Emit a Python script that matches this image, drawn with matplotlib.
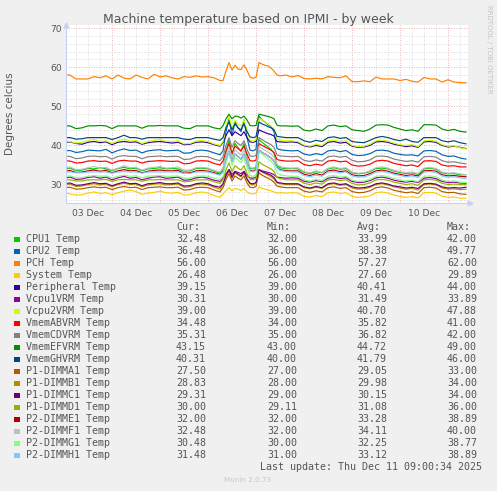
import matplotlib
matplotlib.use("Agg")
import matplotlib.pyplot as plt
from matplotlib.patches import Rectangle

W, H = 497, 491

# time axis: days since 03 Dec 00:00 (finer sampling around the 06 Dec load)
t_days = [0.0, 0.125, 0.25, 0.375, 0.5, 0.625, 0.75, 0.875, 1.0, 1.125, 1.25, 1.375, 1.5, 1.625,
          1.75, 1.875, 2.0, 2.125, 2.25, 2.375, 2.5, 2.625, 2.75, 2.875, 3.0, 3.125, 3.25,
          3.3125, 3.375, 3.4375, 3.5, 3.5625, 3.625, 3.6875, 3.75, 3.8125, 3.875, 3.9375, 4.0,
          4.0625, 4.125, 4.1875, 4.25, 4.3125, 4.375, 4.4375,
          4.5, 4.625, 4.75, 4.875, 5.0, 5.125, 5.25, 5.375, 5.5, 5.625, 5.75, 5.875, 6.0, 6.125,
          6.25, 6.375, 6.5, 6.625, 6.75, 6.875, 7.0, 7.125, 7.25, 7.375, 7.5, 7.625, 7.75, 7.875,
          8.0, 8.125, 8.25, 8.375]

day_labels = ["03 Dec", "04 Dec", "05 Dec", "06 Dec", "07 Dec", "08 Dec", "09 Dec", "10 Dec"]
day_label_pos = [0.5, 1.5, 2.5, 3.5, 4.5, 5.5, 6.5, 7.5]

names = ["CPU1 Temp", "CPU2 Temp", "PCH Temp", "System Temp", "Peripheral Temp", "Vcpu1VRM Temp",
         "Vcpu2VRM Temp", "VmemABVRM Temp", "VmemCDVRM Temp", "VmemEFVRM Temp", "VmemGHVRM Temp",
         "P1-DIMMA1 Temp", "P1-DIMMB1 Temp", "P1-DIMMC1 Temp", "P1-DIMMD1 Temp", "P2-DIMME1 Temp",
         "P2-DIMMF1 Temp", "P2-DIMMG1 Temp", "P2-DIMMH1 Temp"]
colors = ["#00CC00", "#0066B3", "#FF8000", "#FFCC00", "#330099", "#990099", "#CCFF00", "#FF0000",
          "#808080", "#008F00", "#00487D", "#B35A00", "#B38F00", "#6B006B", "#8FB300", "#B30000",
          "#BEBEBE", "#80FF80", "#80C9FF"]
cur_vals = [32.48, 36.48, 56.00, 26.48, 39.15, 30.31, 39.00, 34.48, 35.31, 43.15, 40.31, 27.50,
            28.83, 29.31, 30.00, 32.00, 32.48, 30.48, 31.48]
min_vals = [32.00, 36.00, 56.00, 26.00, 39.00, 30.00, 39.00, 34.00, 35.00, 43.00, 40.00, 27.00,
            28.00, 29.00, 29.11, 32.00, 32.00, 30.00, 31.00]
avg_vals = [33.99, 38.38, 57.27, 27.60, 40.41, 31.49, 40.70, 35.82, 36.82, 44.72, 41.79, 29.05,
            29.98, 30.15, 31.08, 33.28, 34.11, 32.25, 33.12]
max_vals = [42.00, 49.77, 62.00, 29.89, 44.00, 33.89, 47.88, 41.00, 42.00, 49.00, 46.00, 33.00,
            34.00, 34.00, 36.00, 38.89, 40.00, 38.77, 38.89]

cpu1 = [34, 34.2, 33.6, 33.7, 34.1, 34, 34.3, 34, 33.5, 34.1, 34.4, 34, 34.2, 33.5, 34, 34.1, 34.3, 34, 34.1, 34, 33.4, 33.5, 34.1, 34.2, 34, 33.4, 33,
        34, 38.5, 41.5, 37.5, 40.5, 39.5, 38.5, 40.5, 37, 34.2, 34, 34.4, 41.5, 40.8, 40.2, 39.6, 39, 38, 34.8,
        34.3, 34, 34.1, 34, 33.1, 32.8, 33.3, 33, 34, 34.3, 33.9, 34.1, 33, 32.7, 32.9, 33.3, 34.1, 34.2, 34, 33.4, 33.1, 32.8, 33, 32.6, 34, 34.2, 33.9, 33, 32.7, 32.8, 32.5, 32.5]
cpu2 = [38.6, 38.7, 38.2, 38.4, 38.8, 38.7, 38.6, 39, 38.1, 38.7, 39.1, 38.7, 38.8, 38.1, 38.6, 38.8, 38.9, 38.6, 38.7, 38.8, 38, 38.1, 38.7, 38.8, 38.6, 38.1, 37.6,
        38.6, 43.5, 47, 42.5, 46, 44.5, 43.5, 46.5, 42, 38.8, 38.6, 39, 47.5, 46.5, 46, 45.3, 44.8, 43.5, 39.2,
        38.9, 38.7, 38.6, 38.7, 37.8, 37.5, 37.9, 37.6, 38.6, 38.8, 38.4, 38.7, 37.7, 37.4, 37.5, 37.9, 38.7, 38.8, 38.6, 38, 37.7, 37.5, 37.6, 37.3, 38.6, 38.7, 38.5, 37.6, 37.2, 37.3, 36.8, 36.5]
pch = [58, 58, 57, 57, 57, 57.6, 57.3, 57.8, 57, 58, 57.2, 57, 58, 57.4, 57, 58.2, 57.5, 57.8, 57.3, 57, 57.6, 57.4, 57.8, 57.5, 57.6, 57.3, 56.6,
       56.6, 59, 61.2, 59.3, 60.5, 59.5, 59.4, 60.6, 59.2, 57.5, 57.2, 57.4, 61.2, 60.8, 60.5, 60.3, 59.8, 59, 58,
       57.8, 58, 57.5, 57.9, 57.1, 57, 57.2, 57, 57.6, 57.4, 57.3, 57.8, 56.3, 56.3, 56.5, 56.3, 57.5, 57, 57, 57, 56.6, 56.9, 56.4, 56.2, 57.4, 57, 57, 56.2, 56.8, 56.2, 56.1, 56]
system = [28, 27.6, 27.3, 27.4, 27.8, 28.1, 27.7, 27.9, 27.4, 27.9, 28.3, 28.6, 28.2, 27.5, 27.8, 28, 28.3, 27.9, 27.8, 28, 27.3, 27.4, 27.9, 28.1, 27.8, 27.2, 26.7,
          27.6, 28.5, 29.2, 28.4, 29, 28.8, 28.5, 29, 28.1, 27.7, 27.6, 27.8, 29.4, 29, 28.8, 28.6, 28.4, 28.1, 27.8,
          27.9, 27.8, 27.9, 27.8, 27, 26.8, 27.2, 26.9, 27.9, 28.1, 27.7, 27.9, 27, 26.7, 26.8, 27.1, 27.9, 28.1, 27.8, 27.3, 27, 26.7, 26.9, 26.6, 27.9, 28, 27.8, 27, 26.7, 26.8, 26.5, 26.5]
peripheral = [40.8, 40.9, 40.5, 40.3, 40.8, 41, 40.7, 40.9, 40.2, 40.8, 41, 40.8, 40.9, 40.3, 40.7, 40.9, 41, 40.8, 40.6, 40.8, 40.2, 40.3, 40.8, 40.9, 40.7, 40.2, 39.8,
              40.8, 42.5, 44, 42.5, 43.5, 43, 42.5, 43.5, 42, 40.9, 40.8, 41, 44, 43.6, 43.3, 43, 42.8, 42.4, 41,
              40.9, 40.8, 40.9, 40.7, 39.9, 39.6, 40, 39.7, 40.8, 41, 40.6, 40.8, 39.8, 39.5, 39.6, 40, 40.9, 41, 40.8, 40.3, 40, 39.7, 39.9, 39.5, 40.9, 41, 40.8, 40, 39.6, 39.8, 39.5, 39.2]
vcpu1 = [31.6, 31.9, 31.3, 31.4, 31.8, 32, 31.6, 31.9, 31.2, 31.7, 32.1, 31.6, 31.8, 31.2, 31.6, 31.9, 32, 31.6, 31.7, 31.9, 31.1, 31.2, 31.7, 31.9, 31.6, 31.1, 30.8,
         31.6, 32.8, 33.8, 32.6, 33.4, 33.1, 32.8, 33.4, 32.3, 31.7, 31.6, 31.9, 33.8, 33.5, 33.3, 33.1, 32.9, 32.5, 31.9,
         31.8, 31.6, 31.7, 31.6, 30.8, 30.6, 31, 30.7, 31.6, 31.9, 31.5, 31.7, 30.8, 30.5, 30.6, 31, 31.7, 31.9, 31.6, 31.1, 30.8, 30.6, 30.8, 30.5, 31.6, 31.8, 31.5, 30.8, 30.5, 30.6, 30.4, 30.3]
vcpu2 = [41.2, 41, 40.6, 40.8, 41.3, 41.5, 41, 41.2, 40.5, 41.2, 41.6, 41.1, 41.3, 40.5, 41, 41.3, 41.5, 41.1, 41, 41.2, 40.4, 40.5, 41.1, 41.3, 41, 40.4, 40,
         41, 45, 47.5, 44.5, 46.5, 45.5, 45, 46.5, 44, 41.4, 41, 41.5, 47, 46.5, 46, 45.5, 45, 44.2, 41.6,
         41.4, 41.2, 41.2, 41, 40.1, 39.8, 40.3, 40, 41.2, 41.4, 41, 41.2, 40, 39.7, 39.8, 40.3, 41.2, 41.4, 41.1, 40.6, 40.2, 40, 40.2, 39.7, 41.2, 41.3, 41.1, 40.2, 39.8, 39.9, 39.4, 39.1]
vmem_ab = [36.1, 36, 35.5, 35.6, 36, 36.1, 35.9, 36, 35.4, 36, 36.2, 36, 36, 35.5, 35.9, 36, 36.1, 36, 35.9, 36, 35.3, 35.4, 36, 36.1, 36, 35.4, 35,
           36, 38.5, 40.5, 38, 39.8, 39.2, 38.6, 39.8, 37.8, 36.1, 36, 36.2, 40.5, 40, 39.6, 39.2, 38.8, 38.2, 36.4,
           36.2, 36, 36, 36.1, 35.1, 34.8, 35.2, 34.9, 36, 36.2, 35.8, 36, 35, 34.7, 34.8, 35.2, 36, 36.2, 36, 35.4, 35.1, 34.8, 35, 34.6, 36, 36.1, 35.9, 35, 34.7, 34.8, 34.5, 34.5]
vmem_cd = [37.2, 37.2, 36.6, 36.8, 37.2, 37.3, 37.1, 37.2, 36.5, 37.2, 37.4, 37.2, 37.2, 36.6, 37.1, 37.2, 37.3, 37.1, 37.2, 37.2, 36.4, 36.5, 37.1, 37.2, 37.1, 36.5, 36.1,
           37.1, 40, 42, 39.5, 41.2, 40.5, 40, 41.2, 39, 37.3, 37.2, 37.4, 42, 41.5, 41, 40.6, 40.2, 39.5, 37.6,
           37.3, 37.2, 37.1, 37.2, 36.2, 35.9, 36.3, 36, 37.1, 37.3, 37, 37.2, 36.2, 35.8, 35.9, 36.3, 37.2, 37.3, 37.1, 36.5, 36.2, 35.9, 36.1, 35.7, 37.1, 37.2, 37, 36.1, 35.7, 35.8, 35.5, 35.3]
vmem_ef = [45, 45, 44.3, 44.5, 45, 45, 45.1, 45, 44.3, 45, 45, 45, 45, 44.4, 45, 45, 45.1, 45, 45, 45, 44.4, 44.3, 45, 45, 45, 44.5, 44.2,
           45, 46.8, 48, 46.8, 47.5, 47.4, 47, 47.5, 46.5, 45.1, 45, 45.1, 48, 47.8, 47.6, 47.4, 47.2, 46.8, 45.2,
           45, 45, 44.9, 45, 43.9, 43.7, 44.2, 43.8, 45, 45.2, 44.8, 45, 44, 43.8, 43.6, 44.2, 45.2, 45.3, 45.2, 44.6, 44.2, 43.8, 44, 43.6, 45.3, 45.3, 45.2, 44.2, 43.8, 44.1, 43.6, 43.4]
vmem_gh = [42, 42, 41.6, 41.7, 42, 42, 42, 42, 41.5, 42, 42.6, 42, 42, 41.6, 42, 42, 42, 42, 42, 42, 41.6, 41.5, 42, 42, 42, 41.6, 41.3,
           42, 44.5, 46, 44, 45.5, 44.5, 44, 45.5, 43.5, 42.2, 42, 42.2, 46, 45.5, 45.2, 44.8, 44.5, 44, 42.3,
           42.2, 42, 42, 42, 41.2, 40.8, 41.3, 41, 42, 42.2, 41.8, 42, 41, 40.8, 40.7, 41.3, 42, 42.3, 42, 41.5, 41.2, 41.6, 41, 40.8, 42, 42, 42, 41.2, 40.9, 41.2, 40.7, 40.4]
dimm_a1 = [29.2, 29.3, 28.8, 28.9, 29.2, 29.4, 29.2, 29.3, 28.7, 29.2, 29.5, 29.2, 29.3, 28.7, 29.2, 29.3, 29.4, 29.2, 29.2, 29.3, 28.6, 28.7, 29.2, 29.3, 29.2, 28.6, 28.1,
           29.2, 31.3, 32.8, 30.9, 32.2, 31.6, 31.2, 32.2, 30.4, 29.3, 29.2, 29.5, 33, 32.4, 32, 31.6, 31.2, 30.6, 29.6,
           29.4, 29.2, 29.2, 29.2, 28.3, 28, 28.4, 28.1, 29.2, 29.4, 29, 29.2, 28.2, 27.9, 28, 28.4, 29.2, 29.4, 29.1, 28.5, 28.2, 27.9, 28.1, 27.7, 29.2, 29.3, 29.1, 28.2, 27.9, 28, 27.6, 27.5]
dimm_b1 = [29.9, 30.1, 29.5, 29.6, 30, 30.2, 29.9, 30.1, 29.4, 30, 30.3, 30, 30.1, 29.4, 29.9, 30.1, 30.2, 29.9, 30, 30.1, 29.3, 29.4, 30, 30.1, 29.9, 29.3, 28.8,
           29.9, 32, 33.6, 31.6, 33, 32.4, 32, 33, 31.2, 30.1, 29.9, 30.3, 33.8, 33.2, 32.8, 32.4, 32, 31.4, 30.4,
           30.2, 30, 30, 30, 29.2, 28.9, 29.3, 29, 30, 30.2, 29.8, 30, 29.1, 28.8, 28.9, 29.3, 30, 30.2, 29.9, 29.4, 29.1, 28.8, 29, 28.6, 30, 30.1, 29.9, 29.1, 28.8, 28.9, 28.7, 28.8]
dimm_c1 = [30.2, 30.4, 29.8, 29.9, 30.2, 30.5, 30.2, 30.3, 29.7, 30.2, 30.6, 30.2, 30.3, 29.7, 30.2, 30.3, 30.5, 30.2, 30.2, 30.4, 29.6, 29.7, 30.2, 30.4, 30.2, 29.6, 29.3,
           30.2, 32.3, 33.8, 31.9, 33.2, 32.7, 32.2, 33.2, 31.5, 30.3, 30.2, 30.5, 33.8, 33.3, 33, 32.7, 32.4, 31.8, 30.6,
           30.4, 30.2, 30.2, 30.2, 29.4, 29.1, 29.5, 29.2, 30.2, 30.4, 30, 30.2, 29.4, 29.1, 29.2, 29.5, 30.2, 30.4, 30.1, 29.6, 29.4, 29.1, 29.3, 29, 30.2, 30.3, 30.1, 29.4, 29.1, 29.2, 29.1, 29.3]
dimm_d1 = [31.2, 31.2, 30.9, 30.9, 31.2, 31.2, 31.2, 31.3, 30.8, 31.2, 31.3, 31.2, 31.2, 30.8, 31.2, 31.2, 31.3, 31.2, 31.2, 31.2, 30.7, 30.8, 31.2, 31.2, 31.2, 30.7, 30.3,
           31.2, 33.8, 35.5, 33.3, 34.8, 34.2, 33.7, 34.8, 32.8, 31.3, 31.2, 31.5, 35.8, 35.2, 34.8, 34.4, 34, 33.3, 31.8,
           31.5, 31.2, 31.2, 31.2, 30.3, 30, 30.4, 30.1, 31.2, 31.3, 31, 31.2, 30.3, 29.9, 30, 30.4, 31.2, 31.3, 31.1, 30.6, 30.3, 30, 30.2, 29.8, 31.2, 31.3, 31.1, 30.3, 30, 30.1, 30, 30]
dimm_e1 = [33.4, 33.6, 33.1, 33.2, 33.5, 33.7, 33.4, 33.6, 33, 33.5, 33.8, 33.5, 33.6, 33, 33.4, 33.6, 33.7, 33.5, 33.5, 33.6, 32.9, 33, 33.5, 33.6, 33.4, 33, 32.6,
           33.4, 36.5, 38.5, 36, 37.8, 37.2, 36.5, 37.8, 35.5, 33.6, 33.4, 33.8, 38.8, 38.2, 37.8, 37.3, 36.8, 36, 34.4,
           33.8, 33.5, 33.5, 33.5, 32.6, 32.3, 32.8, 32.4, 33.5, 33.7, 33.3, 33.5, 32.5, 32.2, 32.3, 32.8, 33.5, 33.7, 33.4, 32.9, 32.6, 32.3, 32.5, 32.2, 33.5, 33.6, 33.4, 32.5, 32.2, 32.3, 32.1, 32]
dimm_f1 = [34.2, 34.5, 33.8, 33.9, 34.3, 34.6, 34.2, 34.4, 33.7, 34.2, 34.8, 34.3, 34.4, 33.7, 34.2, 34.4, 34.6, 34.2, 34.3, 34.5, 33.6, 33.7, 34.3, 34.4, 34.2, 33.6, 33.2,
           34.2, 37.5, 39.5, 37, 38.8, 38.2, 37.5, 38.8, 36.5, 34.4, 34.2, 34.6, 39.8, 39.2, 38.8, 38.3, 37.8, 37, 35.2,
           34.6, 34.3, 34.2, 34.3, 33.3, 33, 33.5, 33.1, 34.2, 34.5, 34.1, 34.3, 33.2, 32.9, 33, 33.5, 34.3, 34.5, 34.2, 33.6, 33.3, 33, 33.2, 32.8, 34.2, 34.4, 34.1, 33.2, 32.9, 33, 32.7, 32.5]
dimm_g1 = [32.1, 32.2, 31.8, 31.8, 32.1, 32.3, 32.1, 32.2, 31.7, 32.1, 32.4, 32.1, 32.2, 31.7, 32.1, 32.2, 32.3, 32.1, 32.1, 32.2, 31.6, 31.6, 32.1, 32.2, 32.1, 31.6, 31.2,
           32.1, 35.5, 38, 35, 37, 36.3, 35.6, 37, 34.5, 32.3, 32.1, 32.5, 38.5, 37.8, 37.2, 36.6, 36, 35, 33,
           32.5, 32.2, 32.1, 32.1, 31.2, 30.9, 31.3, 31, 32.1, 32.3, 31.9, 32.1, 31.1, 30.8, 30.9, 31.3, 32.1, 32.3, 32, 31.5, 31.2, 30.9, 31.1, 30.7, 32.1, 32.2, 32, 31.1, 30.8, 30.9, 30.6, 30.5]
dimm_h1 = [33.2, 33.2, 33, 33, 33.2, 33.2, 33.2, 33.2, 32.9, 33.2, 33.3, 33.2, 33.2, 32.9, 33.2, 33.2, 33.2, 33.2, 33.2, 33.2, 32.8, 32.8, 33.2, 33.2, 33.2, 32.8, 32.4,
           33.2, 36.5, 38.5, 36, 37.8, 37.2, 36.5, 37.8, 35.5, 33.4, 33.2, 33.6, 38.8, 38.2, 37.8, 37.3, 36.8, 36, 34.3,
           33.6, 33.3, 33.2, 33.2, 32.3, 32, 32.4, 32.1, 33.2, 33.3, 33, 33.2, 32.2, 31.9, 32, 32.4, 33.2, 33.3, 33.1, 32.6, 32.3, 32, 32.2, 31.8, 33.2, 33.3, 33.1, 32.2, 31.9, 32, 31.7, 31.5]

series = [cpu1, cpu2, pch, system, peripheral, vcpu1, vcpu2, vmem_ab, vmem_cd, vmem_ef, vmem_gh,
          dimm_a1, dimm_b1, dimm_c1, dimm_d1, dimm_e1, dimm_f1, dimm_g1, dimm_h1]


def fx(x):
    return x / W


def fy(y):
    return 1 - y / H


fig = plt.figure(figsize=(W / 100, H / 100), dpi=100)
fig.patch.set_facecolor("#F0F0F0")
ax = fig.add_axes([fx(66), fy(202.5), 402 / W, 177.5 / H])
ax.set_facecolor("white")
ax.set_xlim(0.0417, 8.4167)
ax.set_ylim(25.4, 70.8)

# grid like rrdtool: grey minor, red major, both dotted
for d in range(0, 9):
    for q in (0.25, 0.5, 0.75):
        ax.axvline(d + q, color="#CFCFCF", lw=0.6, ls=(0, (1, 2)), zorder=0)
    ax.axvline(d, color="#E59A9A", lw=0.6, ls=(0, (1, 2)), zorder=0)
for v in range(26, 71, 2):
    if v % 10 == 0:
        ax.axhline(v, color="#E59A9A", lw=0.6, ls=(0, (1, 2)), zorder=0)
    else:
        ax.axhline(v, color="#CFCFCF", lw=0.6, ls=(0, (1, 2)), zorder=0)

for vals, c in zip(series, colors):
    ax.plot(t_days, vals, color=c, lw=0.85, zorder=2)

for s in ("top", "right"):
    ax.spines[s].set_visible(False)
for s in ("left", "bottom"):
    ax.spines[s].set_color("#C8D0F4")
    ax.spines[s].set_linewidth(0.8)
ax.plot([0], [1.0], marker="^", color="#C8D0F4", ms=3.5, transform=ax.transAxes, clip_on=False)
ax.plot([1.005], [0], marker=">", color="#C8D0F4", ms=3.5, transform=ax.transAxes, clip_on=False)

ax.set_yticks([30, 40, 50, 60, 70])
ax.set_xticks(day_label_pos)
ax.set_xticklabels(day_labels)
ax.tick_params(length=0, labelsize=6.6, colors="#555555")
ax.tick_params(axis="y", pad=3)
ax.tick_params(axis="x", pad=4.5)

fig.text(fx(248), fy(19), "Machine temperature based on IPMI - by week", ha="center", va="center",
         fontsize=9, color="#555555")
fig.text(fx(10), fy(114), "Degrees celcius", rotation=90, ha="center", va="center",
         fontsize=7.5, color="#555555")
fig.text(fx(489), fy(5), "RRDTOOL / TOBI OETIKER", rotation=270, ha="center", va="top",
         fontsize=5, color="#C4C4C4")

mono = dict(family="DejaVu Sans Mono", fontsize=7.2, color="#555555", va="center")
fig.text(fx(176), fy(227), "Cur:", **mono)
fig.text(fx(267), fy(227), "Min:", **mono)
fig.text(fx(357), fy(227), "Avg:", **mono)
fig.text(fx(447), fy(227), "Max:", **mono)
for i, name in enumerate(names):
    y = 239.5 + 12 * i
    fig.patches.append(Rectangle((fx(14.2), fy(y + 2.8)), 5.6 / W, 5.6 / H, transform=fig.transFigure,
                                 facecolor=colors[i], edgecolor="none"))
    fig.text(fx(26), fy(y), name, **mono)
    fig.text(fx(176), fy(y), f"{cur_vals[i]:.2f}", **mono)
    fig.text(fx(267), fy(y), f"{min_vals[i]:.2f}", **mono)
    fig.text(fx(357), fy(y), f"{avg_vals[i]:.2f}", **mono)
    fig.text(fx(447), fy(y), f"{max_vals[i]:.2f}", **mono)
fig.text(fx(482), fy(467.5), "Last update: Thu Dec 11 09:00:34 2025", ha="right",
         **{k: v for k, v in mono.items()})
fig.text(fx(248), fy(480), "Munin 2.0.73", ha="center", va="center", fontsize=5.2, color="#C8C8C8")

fig.savefig("out.png", dpi=100, facecolor=fig.get_facecolor())
